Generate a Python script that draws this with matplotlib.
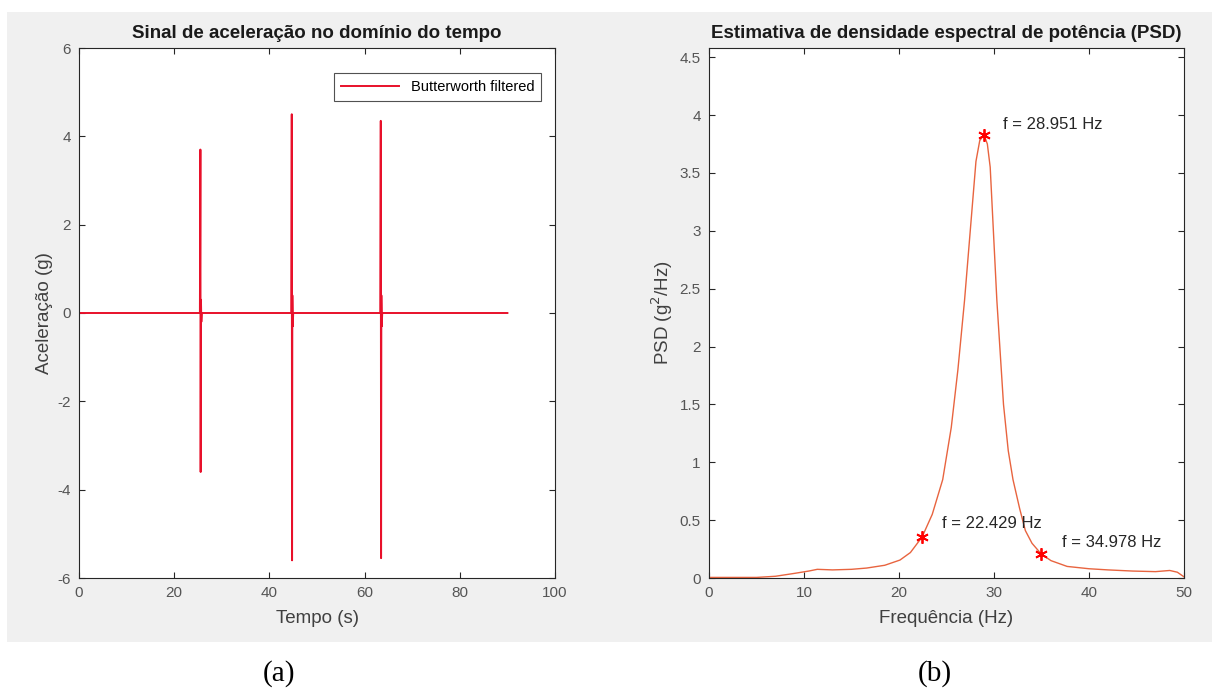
import matplotlib
matplotlib.use("Agg")
import matplotlib.pyplot as plt
from matplotlib.patches import Rectangle
import numpy as np

plt.rcParams['font.family'] = ['Liberation Sans', 'DejaVu Sans']
plt.rcParams['axes.unicode_minus'] = False

# ---- data: time signal (a) ----
time_s = [0, 25.4, 25.5, 25.56, 25.62, 25.7, 25.8,
          44.6, 44.7, 44.76, 44.82, 44.9, 45.0,
          63.3, 63.4, 63.46, 63.52, 63.6, 63.7, 90]
accel_g = [0, 0, 3.7, -3.6, 0.3, -0.2, 0,
           0, 4.5, -5.6, 0.4, -0.3, 0,
           0, 4.35, -5.55, 0.4, -0.3, 0, 0]

# ---- data: PSD (b) ----
freq_hz = [0, 5, 7, 9, 10.5, 11.4, 13, 15, 16.6, 18.5, 20.1, 21.2, 22.429,
           23.5, 24.6, 25.5, 26.2, 26.9, 27.5, 28.1, 28.5, 28.951, 29.3, 29.6,
           30.3, 31, 31.5, 32.0, 32.7, 33.3, 34.0, 34.978, 36, 37.7, 40, 42,
           44.6, 47, 48.5, 49.3, 50]
psd = [0.005, 0.005, 0.015, 0.04, 0.06, 0.075, 0.07, 0.075, 0.086, 0.11, 0.155,
       0.22, 0.354, 0.55, 0.85, 1.3, 1.8, 2.4, 3.0, 3.6, 3.78, 3.83, 3.75, 3.55,
       2.4, 1.5, 1.1, 0.85, 0.6, 0.41, 0.3, 0.207, 0.15, 0.10, 0.08, 0.07,
       0.06, 0.055, 0.065, 0.05, 0.01]
peak_freqs = [28.951, 22.429, 34.978]
peak_psd = [3.83, 0.354, 0.207]
peak_labels = ['f = 28.951 Hz', 'f = 22.429 Hz', 'f = 34.978 Hz']
label_pos = [(30.95, 3.92), (24.5, 0.475), (37.2, 0.31)]

W, H = 1212, 698
fig = plt.figure(figsize=(W / 100, H / 100), dpi=100, facecolor='white')

# gray MATLAB figure background
fig.patches.append(Rectangle((7 / W, 1 - 642 / H), (W - 7) / W, (642 - 12) / H,
                             transform=fig.transFigure, facecolor='#f0f0f0',
                             edgecolor='none', zorder=-10))

tick_col = '#555555'

def style(ax):
    ax.tick_params(direction='in', length=4, width=0.8, top=True, right=True,
                   colors='#262626', labelcolor=tick_col, labelsize=11, pad=6)
    for s in ax.spines.values():
        s.set_color('#262626')
        s.set_linewidth(0.8)

# (a)
ax1 = fig.add_axes([79 / W, 1 - 578 / H, (555 - 79) / W, (578 - 48) / H])
ax1.plot(time_s, accel_g, color='#e8102a', lw=1.4, label='Butterworth filtered')
ax1.set_xlim(0, 100)
ax1.set_ylim(-6, 6)
ax1.set_xticks([0, 20, 40, 60, 80, 100])
ax1.set_yticks([-6, -4, -2, 0, 2, 4, 6])
ax1.set_title('Sinal de aceleração no domínio do tempo', fontsize=13.5,
              fontweight='bold', color='#1a1a1a', pad=7)
ax1.set_xlabel('Tempo (s)', fontsize=13.5, color='#404040', labelpad=7)
ax1.set_ylabel('Aceleração (g)', fontsize=13.5, color='#404040', labelpad=3)
style(ax1)
leg = ax1.legend(loc='upper right', fontsize=10.5, frameon=True, fancybox=False,
                 edgecolor='#262626', borderpad=0.45, handlelength=4.0,
                 bbox_to_anchor=(0.97, 0.952), borderaxespad=0)
leg.get_frame().set_linewidth(0.8)

# (b)
ax2 = fig.add_axes([709 / W, 1 - 578 / H, (1184 - 709) / W, (578 - 48) / H])
ax2.plot(freq_hz, psd, color='#e8643f', lw=1.0)
ax2.plot(peak_freqs, peak_psd, linestyle='none', marker=(6, 2, 0), color='#ff0000',
         markersize=9, markeredgewidth=1.3)
for lab, (x, y) in zip(peak_labels, label_pos):
    ax2.text(x, y, lab, fontsize=12, color='#262626', va='center', ha='left')
ax2.set_xlim(0, 50)
ax2.set_ylim(0, 4.58)
ax2.set_xticks([0, 10, 20, 30, 40, 50])
ax2.set_yticks(np.arange(0, 4.51, 0.5))
ax2.set_yticklabels(['0', '0.5', '1', '1.5', '2', '2.5', '3', '3.5', '4', '4.5'])
ax2.set_title('Estimativa de densidade espectral de potência (PSD)', fontsize=13.5,
              fontweight='bold', color='#1a1a1a', pad=7)
ax2.set_xlabel('Frequência (Hz)', fontsize=13.5, color='#404040', labelpad=7)
ax2.set_ylabel('PSD (g$^2$/Hz)', fontsize=13.5, color='#404040', labelpad=3)
style(ax2)

# captions
fig.text(279 / W, 1 - 674 / H, '(a)', fontsize=21, family='Liberation Serif',
         ha='center', va='center', color='black')
fig.text(935 / W, 1 - 674 / H, '(b)', fontsize=21, family='Liberation Serif',
         ha='center', va='center', color='black')

fig.savefig('out.png', dpi=100, facecolor='white')
